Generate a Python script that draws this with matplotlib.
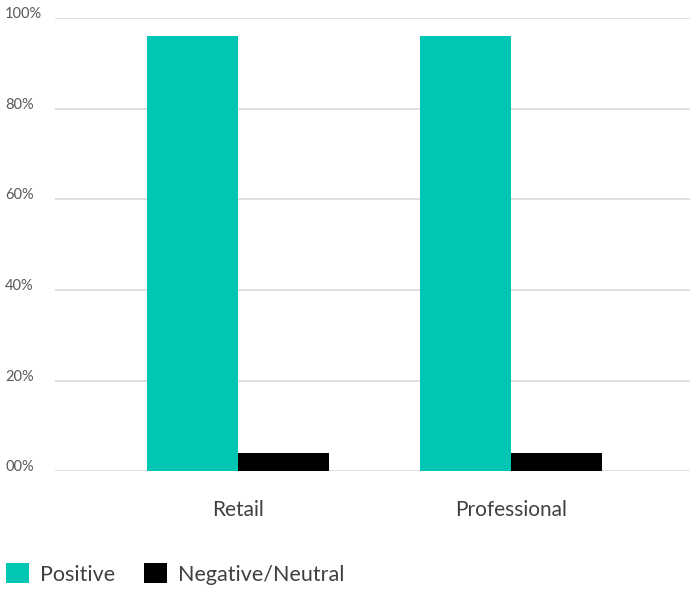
import matplotlib
matplotlib.use("Agg")
import matplotlib.pyplot as plt
import matplotlib.transforms as mtransforms
from matplotlib.patches import Patch

categories = ["Retail", "Professional"]
positive = [96, 96]
negative = [4, 4]
yticks = [0, 20, 40, 60, 80, 100]
ytick_labels = ["00%", "20%", "40%", "60%", "80%", "100%"]
series_names = ["Positive", "Negative/Neutral"]
colors = ["#00C6B3", "#000000"]

plt.rcParams['font.family'] = ['Lato', 'DejaVu Sans']

W, H = 690, 589
fig = plt.figure(figsize=(W / 100, H / 100), dpi=100)
ax_left, ax_right = 55, 690
ax_top, ax_bottom = 18, 471.3
ax = fig.add_axes([ax_left / W, 1 - ax_bottom / H, (ax_right - ax_left) / W, (ax_bottom - ax_top) / H])

x = list(range(len(categories)))
bw = 1 / 3
ax.bar([i - bw / 2 for i in x], positive, width=bw, color=colors[0], zorder=3)
ax.bar([i + bw / 2 for i in x], negative, width=bw, color=colors[1], zorder=3)

# x scale: centers at px 238 and 511
scale = 273.0
ax.set_xlim((ax_left - 238) / scale, (ax_right - 238) / scale)
ax.set_ylim(0, 100)

for s in ax.spines.values():
    s.set_visible(False)
ax.set_yticks(yticks)
ax.set_yticklabels([])
ax.tick_params(axis='y', length=0)
ax.grid(axis='y', color='#D9D9D9', linewidth=1.2, zorder=0)
ax.set_xticks(x)
ax.set_xticklabels([])
ax.tick_params(axis='x', length=0)

trans = mtransforms.blended_transform_factory(fig.transFigure, ax.transData)
for v, lab in zip(yticks, ytick_labels):
    fig.text(5 / W, v, lab, transform=trans, ha='left', va='baseline',
             fontsize=10.5, color='#595959')

transx = mtransforms.blended_transform_factory(ax.transData, fig.transFigure)
for i, c in zip(x, categories):
    ax.text(i, 1 - 510 / H, c, transform=transx, ha='center', va='center',
            fontsize=15, color='#404040')

handles = [Patch(facecolor=colors[0]), Patch(facecolor=colors[1])]
fig.legend(handles, series_names, loc='center left', bbox_to_anchor=(4 / W, 1 - 574 / H),
           ncol=2, frameon=False, fontsize=15.5, labelcolor='#404040',
           handlelength=1.05, handleheight=1.05, handletextpad=0.5, columnspacing=1.37,
           borderaxespad=0, borderpad=0.1)

fig.savefig("out.png", dpi=100)
